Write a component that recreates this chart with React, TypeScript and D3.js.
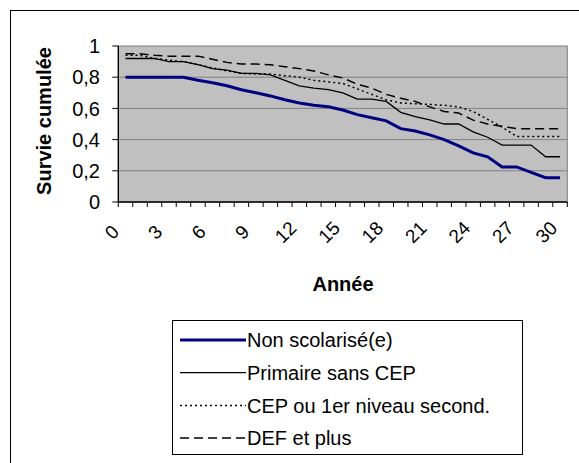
import React from "react";
import * as d3 from "d3";

const years = d3.range(0, 31);
const tickLabelYears = [0, 3, 6, 9, 12, 15, 18, 21, 24, 27, 30];
const yTicks = [0, 0.2, 0.4, 0.6, 0.8, 1];
const yTickLabels = ["0", "0,2", "0,4", "0,6", "0,8", "1"];

const nonScolarise = [0.8, 0.8, 0.8, 0.8, 0.8, 0.78, 0.765, 0.745, 0.72, 0.7, 0.68, 0.655, 0.635, 0.62, 0.61, 0.59, 0.56, 0.54, 0.52, 0.47, 0.455, 0.43, 0.4, 0.36, 0.315, 0.29, 0.225, 0.225, 0.19, 0.156, 0.156];
const primaire = [0.92, 0.92, 0.92, 0.9, 0.9, 0.88, 0.855, 0.845, 0.825, 0.825, 0.815, 0.78, 0.745, 0.73, 0.72, 0.7, 0.66, 0.66, 0.645, 0.575, 0.547, 0.527, 0.5, 0.5, 0.45, 0.415, 0.365, 0.365, 0.365, 0.29, 0.29];
const cep = [0.94, 0.94, 0.92, 0.91, 0.9, 0.88, 0.86, 0.84, 0.825, 0.82, 0.82, 0.81, 0.8, 0.78, 0.77, 0.76, 0.725, 0.69, 0.655, 0.635, 0.63, 0.625, 0.62, 0.61, 0.58, 0.53, 0.48, 0.42, 0.42, 0.42, 0.42];
const defPlus = [0.95, 0.95, 0.94, 0.935, 0.935, 0.935, 0.915, 0.895, 0.885, 0.885, 0.88, 0.867, 0.855, 0.84, 0.815, 0.795, 0.755, 0.73, 0.69, 0.665, 0.645, 0.61, 0.58, 0.57, 0.525, 0.5, 0.485, 0.47, 0.47, 0.47, 0.47];

const seriesNames = ["Non scolarisé(e)", "Primaire sans CEP", "CEP ou 1er niveau second.", "DEF et plus"];
const seriesValues = [nonScolarise, primaire, cep, defPlus];
const seriesStyles = [
  { stroke: "#000080", width: 3, dash: "" },
  { stroke: "#000000", width: 1.3, dash: "" },
  { stroke: "#000000", width: 1.5, dash: "2,3" },
  { stroke: "#000000", width: 1.5, dash: "9,5" },
];

const FONT = "'Liberation Sans', Arial, sans-serif";

export default function App() {
  const left = 118.3, right = 567.3, top = 46, bottom = 202;
  const x = d3.scaleBand<number>().domain(years).range([left, right]);
  const y = d3.scaleLinear().domain([0, 1]).range([bottom, top]);
  const line = d3
    .line<number>()
    .x((_, i) => (x(years[i]) as number) + x.bandwidth() / 2)
    .y((d) => y(d));
  const boundaries = d3.range(0, years.length + 1).map((i) => left + i * x.step());

  return (
    <svg width={579} height={463} style={{ position: "absolute", left: 0, top: 0 }} fontFamily={FONT}>
      <rect x={0} y={0} width={579} height={463} fill="#ffffff" />
      <rect x={10.5} y={10.5} width={600} height={500} fill="#ffffff" stroke="#000" strokeWidth={1} />
      <rect x={left} y={top} width={right - left} height={bottom - top} fill="#c0c0c0" stroke="#808080" strokeWidth={1} />
      {yTicks.slice(1, -1).map((t) => (
        <line key={t} x1={left} x2={right} y1={y(t)} y2={y(t)} stroke="#808080" strokeWidth={1} />
      ))}
      <line x1={left} x2={left} y1={top} y2={bottom} stroke="#000" strokeWidth={1.3} />
      <line x1={left} x2={right} y1={bottom} y2={bottom} stroke="#000" strokeWidth={1.3} />
      {yTicks.map((t, i) => (
        <g key={t}>
          <line x1={left - 6} x2={left} y1={y(t)} y2={y(t)} stroke="#000" strokeWidth={1} />
          <text x={100} y={y(t)} dy="0.36em" textAnchor="end" fontSize={20}>
            {yTickLabels[i]}
          </text>
        </g>
      ))}
      {boundaries.map((b, i) => (
        <line key={i} x1={b} x2={b} y1={bottom} y2={bottom + 5} stroke="#000" strokeWidth={1} />
      ))}
      {tickLabelYears.map((yr) => {
        const cx = (x(yr) as number) + x.bandwidth() / 2;
        return (
          <text key={yr} transform={`translate(${cx - 14},${232}) rotate(-45)`} textAnchor="middle" dy="0.36em" fontSize={19}>
            {yr}
          </text>
        );
      })}
      <text x={343} y={284} dy="0.36em" textAnchor="middle" fontSize={20} fontWeight="bold">
        Année
      </text>
      <text transform={`translate(44,${121}) rotate(-90)`} dy="0.36em" textAnchor="middle" fontSize={20} fontWeight="bold">
        Survie cumulée
      </text>
      {seriesValues.map((vals, i) => (
        <path
          key={i}
          d={line(vals) as string}
          fill="none"
          stroke={seriesStyles[i].stroke}
          strokeWidth={seriesStyles[i].width}
          strokeDasharray={seriesStyles[i].dash || undefined}
        />
      ))}
      <rect x={172.5} y={320.5} width={350} height={134} fill="#fff" stroke="#000" strokeWidth={1} />
      {seriesNames.map((name, i) => {
        const ly = 340 + i * 32.7;
        const st = seriesStyles[i];
        return (
          <g key={name}>
            <line x1={180} x2={246} y1={ly} y2={ly} stroke={st.stroke} strokeWidth={st.width} strokeDasharray={st.dash || undefined} />
            <text x={247} y={ly} dy="0.36em" fontSize={20}>
              {name}
            </text>
          </g>
        );
      })}
    </svg>
  );
}
